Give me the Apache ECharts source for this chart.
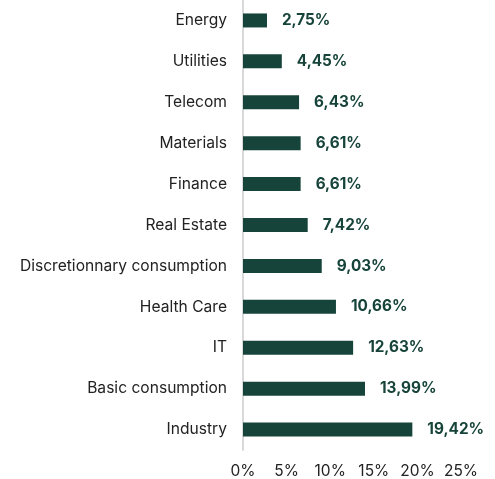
<!DOCTYPE html>
<html><head><meta charset="utf-8">
<script src="https://cdn.jsdelivr.net/npm/echarts@6/dist/echarts.min.js"></script>
<style>html,body{margin:0;padding:0;background:#fff}#c{width:495px;height:479px}</style>
</head><body><div id="c"></div>
<script>
const categories = ["Energy","Utilities","Telecom","Materials","Finance","Real Estate","Discretionnary consumption","Health Care","IT","Basic consumption","Industry"];
const values = [2.75,4.45,6.43,6.61,6.61,7.42,9.03,10.66,12.63,13.99,19.42];
const tickValues = [0,5,10,15,20,25];
const chart = echarts.init(document.getElementById('c'));
const font = 'Inter, "Noto Sans", sans-serif';
chart.setOption({
  animation:false,
  grid:{left:243,right:34,top:0,bottom:29,containLabel:false},
  xAxis:{type:'value',min:0,max:25,interval:5,
    axisLine:{show:false},axisTick:{show:false},splitLine:{show:false},
    axisLabel:{formatter:v=>v+'%',color:'#222',fontSize:15.5,fontFamily:font,margin:13}},
  yAxis:{type:'category',data:categories,inverse:true,
    axisLine:{show:true,lineStyle:{color:'#d9d9d9',width:2}},axisTick:{show:false},
    axisLabel:{color:'#222',fontSize:15.6,fontFamily:font,margin:16}},
  series:[{type:'bar',data:values,barWidth:14,itemStyle:{color:'#17443a'},
    label:{show:true,position:'right',distance:15,color:'#17443a',fontWeight:'bold',fontSize:15.3,fontFamily:font,
      formatter:p=>p.value.toFixed(2).replace('.',',')+'%'}}]
});
</script></body></html>
